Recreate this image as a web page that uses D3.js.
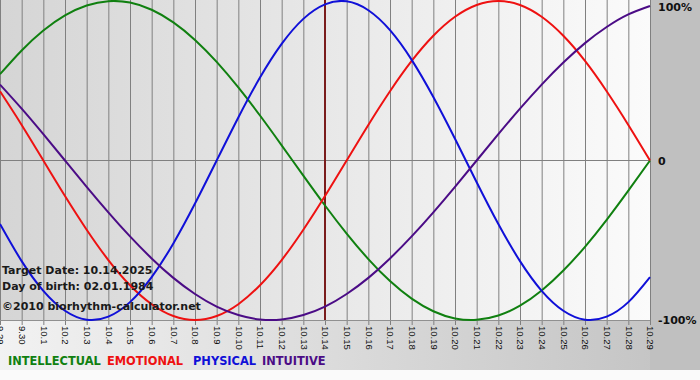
<!DOCTYPE html>
<html>
<head>
<meta charset="utf-8">
<script src="https://cdn.jsdelivr.net/npm/d3@7"></script>
<style>
  html, body { margin: 0; padding: 0; background: #fafafa; }
  svg { display: block; }
</style>
</head>
<body>
<div id="chart"></div>
<script>
(function(){

    // day labels, 9.29 .. 10.29
    var days = ["9.29","9.30","10.1","10.2","10.3","10.4","10.5","10.6","10.7","10.8","10.9","10.10",
        "10.11","10.12","10.13","10.14","10.15","10.16","10.17","10.18","10.19","10.20","10.21",
        "10.22","10.23","10.24","10.25","10.26","10.27","10.28","10.29"];

    var intellectual = [0.541,0.690,0.815,0.910,0.972,0.999,0.990,0.945,0.866,0.756,0.618,0.458,0.282,0.095,
        -0.095,-0.282,-0.458,-0.618,-0.756,-0.866,-0.945,-0.990,-0.999,-0.972,-0.910,-0.815,-0.690,-0.541,-0.372,-0.189,0];
    var emotional = [0.434,0.223,0,-0.223,-0.434,-0.624,-0.782,-0.901,-0.975,-1.0,-0.975,-0.901,-0.782,-0.624,
        -0.434,-0.223,0,0.223,0.434,0.624,0.782,0.901,0.975,1.0,0.975,0.901,0.782,0.624,0.434,0.223,0];
    var physical = [-0.398,-0.631,-0.817,-0.942,-0.998,-0.979,-0.888,-0.731,-0.520,-0.270,0,0.270,0.520,0.731,
        0.888,0.979,0.998,0.942,0.817,0.631,0.398,0.136,-0.136,-0.398,-0.631,-0.817,-0.942,-0.998,-0.979,-0.888,-0.731];
    var intuitive = [0.476,0.325,0.165,0,-0.165,-0.325,-0.476,-0.614,-0.736,-0.837,-0.916,-0.969,-0.997,-0.997,
        -0.969,-0.916,-0.837,-0.736,-0.614,-0.476,-0.325,-0.165,0,0.165,0.325,0.476,0.614,0.736,0.837,0.916,0.969];

    var targetDay = "10.14";
    var yTicks = [1, 0, -1];
    var yTickLabels = ["100%", "0", "-100%"];
    var infoLines = ["Target Date: 10.14.2025", "Day of birth: 02.01.1984", "\u00a92010 biorhythm-calculator.net"];
    var legendNames = ["INTELLECTUAL", "EMOTIONAL", "PHYSICAL", "INTUITIVE"];

    var chart = {
        width: 700,
        height: 380,
        plotW: 650,
        plotH: 320,
        bottom: 370
    };
    var colors = ["#108010", "#ee1111", "#1010d8", "#4b0c86"];
    var series = [intellectual, emotional, physical, intuitive];
    var boldFont = "'DejaVu Sans', Verdana, sans-serif";

    var svg = d3.select("#chart")
        .append("svg")
        .attr("width", chart.width)
        .attr("height", chart.height);

    var defs = svg.append("defs");
    var gPlot = defs.append("linearGradient").attr("id", "plotBg")
        .attr("x1", "0%").attr("x2", "100%").attr("y1", "0%").attr("y2", "0%");
    gPlot.append("stop").attr("offset", "0%").attr("stop-color", "#d5d5d5");
    gPlot.append("stop").attr("offset", "100%").attr("stop-color", "#fbfbfb");

    var gBottom = defs.append("linearGradient").attr("id", "bottomBg")
        .attr("x1", "0%").attr("x2", "100%").attr("y1", "0%").attr("y2", "0%");
    gBottom.append("stop").attr("offset", "0%").attr("stop-color", "#f2f2f2");
    gBottom.append("stop").attr("offset", "100%").attr("stop-color", "#c2c2c2");

    /* backgrounds */
    svg.append("rect").attr("width", chart.width).attr("height", chart.height).style("fill", "#fafafa");
    svg.append("rect").attr("width", chart.width).attr("height", chart.bottom).style("fill", "url(#bottomBg)");
    svg.append("rect").attr("x", chart.plotW).attr("width", chart.width - chart.plotW)
        .attr("height", chart.bottom).style("fill", "#c0c0c0");
    svg.append("rect").attr("width", chart.plotW).attr("height", chart.plotH).style("fill", "url(#plotBg)");

    var x = d3.scaleLinear().domain([0, days.length - 1]).range([0, chart.plotW]);
    var y = d3.scaleLinear().domain([-1, 1]).range([chart.plotH, 1]);

    /* vertical grid + ticks with rotated labels */
    var xAxis = d3.axisBottom(x)
        .tickValues(d3.range(days.length))
        .tickFormat(function(i){ return days[i]; })
        .tickSize(chart.plotH + 5)
        .tickSizeOuter(0);

    var ax = svg.append("g").call(xAxis);
    ax.select(".domain").remove();
    ax.selectAll(".tick line").style("stroke", "#808080");
    ax.selectAll(".tick text")
        .attr("transform", "rotate(90)")
        .attr("y", 0)
        .attr("x", chart.plotH + 6)
        .attr("dy", "0.35em")
        .style("text-anchor", "start")
        .style("font-family", "'Liberation Sans', Arial, sans-serif")
        .style("font-size", "9.5px")
        .style("fill", "#111");

    /* zero line and plot bottom */
    svg.append("line").attr("x1", 0).attr("x2", chart.plotW)
        .attr("y1", y(0)).attr("y2", y(0)).style("stroke", "#808080");
    svg.append("line").attr("x1", 0).attr("x2", chart.plotW)
        .attr("y1", chart.plotH + 0.5).attr("y2", chart.plotH + 0.5).style("stroke", "#909090");

    /* right labels */
    var yAxis = d3.axisRight(y)
        .tickValues(yTicks)
        .tickFormat(function(d, i){ return yTickLabels[i]; })
        .tickSize(0)
        .tickPadding(8);
    var ay = svg.append("g").attr("transform", "translate(" + chart.plotW + ",0)").call(yAxis);
    ay.select(".domain").remove();
    ay.selectAll(".tick text")
        .attr("dy", function(d){ return d === 1 ? "0.9em" : "0.35em"; })
        .style("font-family", boldFont)
        .style("font-weight", "bold")
        .style("font-size", "11px")
        .style("fill", "#111");

    /* target day */
    var ti = days.indexOf(targetDay);
    svg.append("line").attr("x1", x(ti)).attr("x2", x(ti))
        .attr("y1", 0).attr("y2", chart.plotH)
        .style("stroke", "#7a1c1c").style("stroke-width", 2);

    /* curves */
    var line = d3.line()
        .x(function(d, i){ return x(i); })
        .y(function(d){ return y(d); })
        .curve(d3.curveNatural);

    svg.selectAll("path.bio")
        .data(series)
        .enter()
        .append("path")
        .attr("class", "bio")
        .attr("d", line)
        .style("fill", "none")
        .style("stroke", function(d, i){ return colors[i]; })
        .style("stroke-width", 2);

    /* info text */
    svg.selectAll("text.info")
        .data(infoLines)
        .enter()
        .append("text")
        .attr("class", "info")
        .attr("x", 2)
        .attr("y", function(d, i){ return [274, 290, 310][i]; })
        .text(function(d){ return d; })
        .style("font-family", boldFont)
        .style("font-weight", "bold")
        .style("font-size", "11px")
        .style("fill", "#1a1a1a");

    /* legend */
    var legendX = [8, 107, 193, 262];
    legendNames.forEach(function(name, i){
        svg.append("text")
            .attr("x", legendX[i])
            .attr("y", 365)
            .text(name)
            .style("font-family", boldFont)
            .style("font-weight", "bold")
            .style("font-size", "11.4px")
            .style("fill", colors[i]);
    });

})();
</script>
</body>
</html>
